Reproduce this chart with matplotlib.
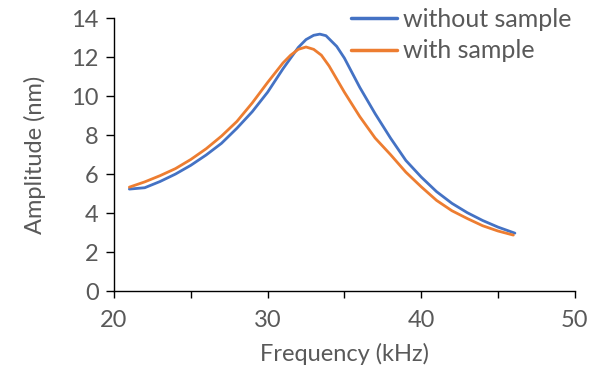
import matplotlib
matplotlib.use("Agg")
import matplotlib.pyplot as plt
from matplotlib.ticker import MultipleLocator

freq_without = [21.0, 22.0, 23.0, 24.0, 25.0, 26.0, 27.0, 28.0, 29.0, 30.0, 31.0, 32.0, 32.5, 33.0,
                33.4, 33.8, 34.5, 35.0, 36.0, 37.0, 38.0, 39.0, 40.0, 41.0, 42.0, 43.0, 44.0, 45.0, 46.1]
amp_without = [5.23, 5.30, 5.62, 6.00, 6.45, 6.98, 7.58, 8.35, 9.20, 10.20, 11.40, 12.50, 12.90, 13.12,
               13.18, 13.10, 12.55, 11.95, 10.45, 9.10, 7.85, 6.70, 5.85, 5.10, 4.50, 4.02, 3.62, 3.28, 2.97]

freq_with = [21.0, 22.0, 23.0, 24.0, 25.0, 26.0, 27.0, 28.0, 29.0, 30.0, 31.0, 31.5, 32.0, 32.5,
             33.0, 33.5, 34.0, 35.0, 36.0, 37.0, 38.0, 39.0, 40.0, 41.0, 42.0, 43.0, 44.0, 45.0, 46.0]
amp_with = [5.33, 5.60, 5.92, 6.28, 6.75, 7.30, 7.95, 8.70, 9.65, 10.70, 11.70, 12.10, 12.40, 12.52,
            12.40, 12.10, 11.55, 10.20, 8.95, 7.85, 7.00, 6.10, 5.35, 4.65, 4.12, 3.72, 3.35, 3.08, 2.87]

labels = ["without sample", "with sample"]
colors = ["#4472C4", "#ED7D31"]

plt.rcParams['font.family'] = ['Lato', 'DejaVu Sans']
text_color = "#595959"
fs = 17

fig = plt.figure(figsize=(6.0, 3.86), dpi=100)
ax = fig.add_axes([0.19, 0.246, 0.768, 0.707])

ax.plot(freq_without, amp_without, color=colors[0], lw=2.0, label=labels[0],
        solid_capstyle='round', solid_joinstyle='round')
ax.plot(freq_with, amp_with, color=colors[1], lw=2.0, label=labels[1],
        solid_capstyle='round', solid_joinstyle='round')

ax.set_xlim(20, 50)
ax.set_ylim(0, 14)
ax.xaxis.set_major_locator(MultipleLocator(10))
ax.xaxis.set_minor_locator(MultipleLocator(5))
ax.yaxis.set_major_locator(MultipleLocator(2))

for side in ['top', 'right']:
    ax.spines[side].set_visible(False)
for side in ['left', 'bottom']:
    ax.spines[side].set_color('black')
    ax.spines[side].set_linewidth(1.0)

ax.tick_params(axis='both', which='both', direction='out', color='black', width=1.0,
               labelsize=fs, labelcolor=text_color)
ax.tick_params(axis='x', which='both', length=5, pad=9)
ax.tick_params(axis='y', which='major', length=6, pad=5)

ax.set_xlabel("Frequency (kHz)", fontsize=fs, color=text_color, labelpad=8)
ax.set_ylabel("Amplitude (nm)", fontsize=fs, color=text_color, labelpad=18)

leg = fig.legend(loc='upper left', bbox_to_anchor=(0.568, 1.005), frameon=False, fontsize=fs + 1,
                 handlelength=1.85, handletextpad=0.25, labelspacing=0.33, borderaxespad=0)
for t in leg.get_texts():
    t.set_color(text_color)
for h in leg.get_lines():
    h.set_linewidth(2.5)

fig.savefig("out.png", dpi=100)
